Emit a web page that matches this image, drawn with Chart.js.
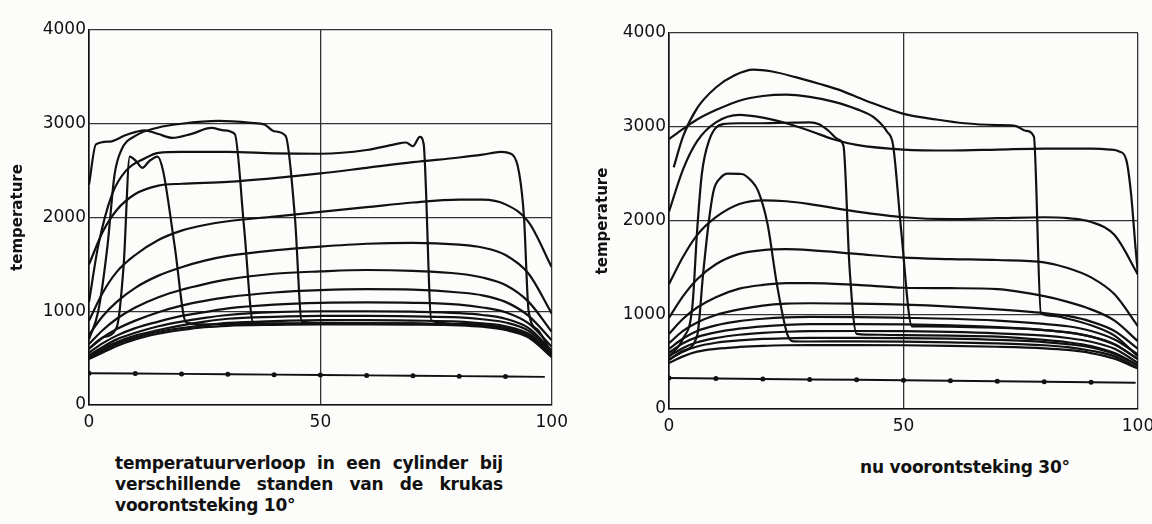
<!DOCTYPE html>
<html>
<head>
<meta charset="utf-8">
<script src="https://cdn.jsdelivr.net/npm/chart.js@4"></script>
<style>
  html, body { margin: 0; padding: 0; }
  body { width: 1152px; height: 524px; overflow: hidden; background: #fcfcfa; position: relative; font-family: 'DejaVu Sans', sans-serif; color: #111; }
  .panel { position: absolute; top: 0; height: 440px; }
  .cap { position: absolute; font-weight: bold; font-size: 17px; line-height: 20px; white-space: nowrap; letter-spacing: -0.2px; }
  .just { text-align: justify; text-align-last: justify; white-space: normal; }
</style>
</head>
<body>
<div class="panel" style="left:0;width:575px"><canvas id="left" width="575" height="440"></canvas></div>
<div class="panel" style="left:580px;width:590px"><canvas id="right" width="590" height="440"></canvas></div>

<div class="cap just" style="left:115px;top:453px;width:388px">temperatuurverloop in een cylinder bij</div>
<div class="cap just" style="left:115px;top:474px;width:388px">verschillende standen van de krukas</div>
<div class="cap" style="left:115px;top:495px">voorontsteking 10°</div>
<div class="cap" style="left:860px;top:457px">nu voorontsteking 30°</div>

<script>
// crank position (%) shared by the smooth curves
const X_GRID = [0, 3, 6, 10, 15, 20, 25, 30, 40, 50, 60, 70, 80, 85, 90, 95, 100];
const Y_TICKS = [0, 1000, 2000, 3000, 4000];
const X_TICKS = [0, 50, 100];

// --- left: voorontsteking 10 ---
const L_C1 = [900, 1200, 1420, 1600, 1760, 1860, 1920, 1960, 2010, 2060, 2110, 2160, 2190, 2190, 2140, 1950, 1470];
const L_C2 = [750, 950, 1100, 1250, 1380, 1470, 1540, 1590, 1650, 1690, 1720, 1730, 1710, 1680, 1600, 1400, 975];
const L_C3 = [650, 800, 920, 1040, 1150, 1230, 1290, 1340, 1400, 1425, 1440, 1430, 1400, 1360, 1280, 1100, 780];
const L_C4 = [600, 720, 810, 900, 990, 1060, 1110, 1150, 1200, 1225, 1235, 1230, 1200, 1170, 1100, 950, 690];
const L_C5 = [560, 660, 740, 820, 890, 950, 990, 1030, 1070, 1090, 1095, 1090, 1070, 1040, 990, 870, 620];
const L_C6 = [530, 620, 700, 770, 840, 890, 930, 960, 990, 1000, 1000, 995, 980, 960, 920, 820, 580];
const L_C7 = [510, 600, 670, 740, 800, 850, 890, 920, 940, 950, 950, 945, 935, 915, 880, 790, 560];
const L_C8 = [500, 580, 650, 720, 780, 820, 850, 875, 895, 905, 905, 900, 890, 870, 840, 760, 540];
const L_C9 = [490, 560, 630, 700, 760, 800, 830, 845, 855, 860, 860, 858, 850, 835, 800, 720, 510];

const L_S1_X = [0, 2, 4, 5.5, 7, 10, 15, 20, 28, 35, 38, 40, 42.5, 44.5, 46, 50, 60, 70, 80, 85, 90, 95, 100];
const L_S1_Y = [700, 1000, 1700, 2450, 2720, 2870, 2960, 3000, 3030, 3010, 2990, 2920, 2870, 2000, 890, 875, 872, 870, 862, 850, 820, 740, 530];
const L_S2_X = [0, 1.5, 4.5, 8, 12, 15, 18, 22, 26.5, 29, 31.5, 33.5, 35.5, 40, 50, 60, 70, 80, 85, 90, 95, 100];
const L_S2_Y = [2350, 2780, 2810, 2880, 2930, 2890, 2850, 2890, 2955, 2930, 2890, 1900, 880, 872, 870, 870, 868, 860, 848, 815, 735, 520];
const L_S3_X = [0, 3, 6, 7.5, 8.8, 10.2, 11.5, 13, 14.8, 16, 18.5, 21, 25, 30, 40, 50, 60, 70, 80, 85, 90, 95, 100];
const L_S3_Y = [600, 720, 830, 1500, 2650, 2600, 2530, 2600, 2650, 2500, 1700, 880, 860, 862, 866, 868, 868, 866, 858, 845, 812, 730, 515];
const L_S4_X = [0, 2, 5, 8, 12, 15, 20, 30, 40, 50, 60, 66, 68.5, 70, 71.5, 72.3, 74, 80, 85, 90, 95, 100];
const L_S4_Y = [1100, 1700, 2250, 2500, 2630, 2690, 2700, 2700, 2685, 2680, 2720, 2780, 2800, 2760, 2860, 2790, 900, 865, 850, 818, 738, 525];
const L_S5_X = [0, 3, 6, 10, 15, 20, 30, 40, 50, 60, 70, 80, 85, 89, 91.5, 93, 94, 95, 97, 100];
const L_S5_Y = [1500, 1850, 2080, 2250, 2340, 2360, 2380, 2420, 2470, 2530, 2590, 2640, 2670, 2700, 2670, 2460, 2000, 1000, 800, 545];

const L_MARK_X = [0, 10, 20, 30, 40, 50, 60, 70, 80, 90, 98.5];
const L_MARK_Y = [340, 336, 332, 328, 324, 320, 316, 312, 308, 304, 300];

// --- right: voorontsteking 30 ---
const R_C6 = [1330, 1620, 1850, 2040, 2180, 2220, 2210, 2180, 2100, 2040, 2020, 2030, 2040, 2030, 1990, 1850, 1430];
const R_C7 = [970, 1200, 1380, 1540, 1650, 1690, 1700, 1690, 1650, 1610, 1595, 1585, 1560, 1500, 1400, 1220, 880];
const R_C8 = [800, 960, 1080, 1190, 1280, 1320, 1340, 1340, 1320, 1290, 1285, 1275, 1200, 1140, 1060, 940, 720];
const R_C9 = [700, 830, 920, 1000, 1060, 1100, 1120, 1125, 1120, 1110, 1090, 1060, 1020, 990, 930, 830, 640];
const R_C10 = [640, 750, 830, 890, 935, 960, 975, 980, 978, 970, 960, 940, 905, 880, 830, 740, 580];
const R_C11 = [600, 700, 765, 815, 855, 880, 895, 902, 903, 900, 890, 870, 840, 815, 770, 685, 530];
const R_C12 = [560, 650, 710, 755, 790, 810, 822, 828, 830, 828, 820, 805, 780, 755, 715, 640, 490];
const R_C13 = [530, 610, 665, 705, 730, 745, 752, 756, 757, 755, 748, 735, 712, 690, 655, 585, 460];
const R_C14 = [490, 560, 610, 640, 660, 672, 678, 680, 680, 678, 672, 662, 645, 628, 595, 535, 430];

const R_S1_X = [1, 3, 6, 10, 14, 18, 22, 27, 32, 36, 42, 50, 57, 63, 70, 74, 76, 77.8, 79.3, 82, 85, 90, 95, 100];
const R_S1_Y = [2570, 2900, 3200, 3420, 3550, 3610, 3590, 3530, 3460, 3400, 3280, 3140, 3080, 3040, 3020, 3010, 2960, 2900, 1020, 990, 960, 890, 780, 560];
const R_S2_X = [0, 3, 6, 10, 15, 20, 25, 30, 35, 40, 44, 46.5, 47.8, 49.5, 51.8, 55, 60, 70, 80, 85, 90, 95, 100];
const R_S2_Y = [2870, 2980, 3080, 3180, 3280, 3330, 3345, 3320, 3270, 3190, 3090, 2950, 2800, 1900, 880, 878, 875, 865, 840, 815, 770, 690, 530];
const R_S3_X = [0, 3, 6, 10, 15, 20, 25, 30, 35, 40, 50, 60, 70, 80, 90, 94, 96, 97.5, 98.5, 99.5, 100];
const R_S3_Y = [2100, 2550, 2850, 3050, 3130, 3100, 3040, 2960, 2870, 2810, 2760, 2750, 2760, 2770, 2770, 2760, 2740, 2650, 2300, 1700, 1430];
const R_S4_X = [0, 3, 5, 6, 7, 8.5, 11.5, 15, 20, 25, 30, 32, 34, 36, 37.2, 38.5, 40, 45, 50, 60, 70, 80, 85, 90, 95, 100];
const R_S4_Y = [560, 750, 1100, 1900, 2500, 2850, 3030, 3040, 3040, 3045, 3050, 3030, 2960, 2870, 2800, 1500, 800, 790, 785, 780, 770, 735, 710, 670, 595, 465];
const R_S5_X = [0, 3, 6, 7.3, 8.5, 9.5, 11, 12.5, 15.5, 17.5, 19, 21, 23, 25.2, 26.5, 30, 40, 50, 60, 70, 80, 85, 90, 95, 100];
const R_S5_Y = [520, 620, 780, 1450, 2000, 2320, 2460, 2505, 2500, 2430, 2320, 1970, 1330, 800, 720, 718, 720, 716, 708, 698, 678, 658, 620, 560, 435];

const R_MARK_X = [0, 10, 20, 30, 40, 50, 60, 70, 80, 90, 99.5];
const R_MARK_Y = [330, 325, 320, 315, 310, 305, 300, 295, 290, 285, 280];

const FONT = "'DejaVu Sans', sans-serif";
const INK = '#111';

function pts(xs, ys) {
  return xs.map((x, i) => ({ x: x, y: ys[i] }));
}

function curve(xs, ys) {
  return {
    data: pts(xs, ys),
    borderColor: INK,
    borderWidth: 2.2,
    pointRadius: 0,
    cubicInterpolationMode: 'monotone',
    borderJoinStyle: 'round'
  };
}

function markerLine(xs, ys) {
  return {
    data: pts(xs, ys),
    borderColor: INK,
    borderWidth: 2,
    backgroundColor: INK,
    pointRadius: ctx => ctx.dataIndex < xs.length - 1 ? 2.5 : 0,
    pointBorderWidth: 0,
    tension: 0
  };
}

function makeChart(id, datasets, pad, xHeight, titlePad) {
  return new Chart(document.getElementById(id), {
    type: 'line',
    data: { datasets: datasets },
    options: {
      responsive: false,
      animation: false,
      events: [],
      layout: { padding: pad },
      plugins: { legend: { display: false }, tooltip: { enabled: false } },
      scales: {
        x: {
          type: 'linear',
          min: 0, max: 100,
          afterBuildTicks: s => { s.ticks = X_TICKS.map(v => ({ value: v })); },
          afterFit: s => { s.height = xHeight; },
          ticks: { color: INK, padding: 7, font: { family: FONT, size: 17 }, maxRotation: 0, callback: v => String(v) },
          grid: { color: '#333', lineWidth: 1.3, drawTicks: false },
          border: { color: INK, width: 1.6 }
        },
        y: {
          min: 0, max: 4000,
          afterBuildTicks: s => { s.ticks = Y_TICKS.map(v => ({ value: v })); },
          afterFit: s => { s.width = 89; },
          ticks: { color: INK, padding: 3, font: { family: FONT, size: 17 }, callback: v => String(v) },
          grid: { color: '#333', lineWidth: 1.3, drawTicks: false },
          border: { color: INK, width: 1.6 },
          title: {
            display: true, text: 'temperature', color: INK,
            font: { family: FONT, size: 15, weight: 'bold' },
            padding: { top: titlePad, bottom: 0 }
          }
        }
      }
    }
  });
}

makeChart('left', [
  curve(X_GRID, L_C1), curve(X_GRID, L_C2), curve(X_GRID, L_C3),
  curve(X_GRID, L_C4), curve(X_GRID, L_C5), curve(X_GRID, L_C6),
  curve(X_GRID, L_C7), curve(X_GRID, L_C8), curve(X_GRID, L_C9),
  curve(L_S1_X, L_S1_Y), curve(L_S2_X, L_S2_Y), curve(L_S3_X, L_S3_Y),
  curve(L_S4_X, L_S4_Y), curve(L_S5_X, L_S5_Y),
  markerLine(L_MARK_X, L_MARK_Y)
], { left: 0, right: 15, top: 30, bottom: 0 }, 35, 9);

makeChart('right', [
  curve(X_GRID, R_C6), curve(X_GRID, R_C7), curve(X_GRID, R_C8),
  curve(X_GRID, R_C9), curve(X_GRID, R_C10), curve(X_GRID, R_C11),
  curve(X_GRID, R_C12), curve(X_GRID, R_C13), curve(X_GRID, R_C14),
  curve(R_S1_X, R_S1_Y), curve(R_S2_X, R_S2_Y), curve(R_S3_X, R_S3_Y),
  curve(R_S4_X, R_S4_Y), curve(R_S5_X, R_S5_Y),
  markerLine(R_MARK_X, R_MARK_Y)
], { left: 0, right: 32, top: 33, bottom: 0 }, 31, 14);
</script>
</body>
</html>
